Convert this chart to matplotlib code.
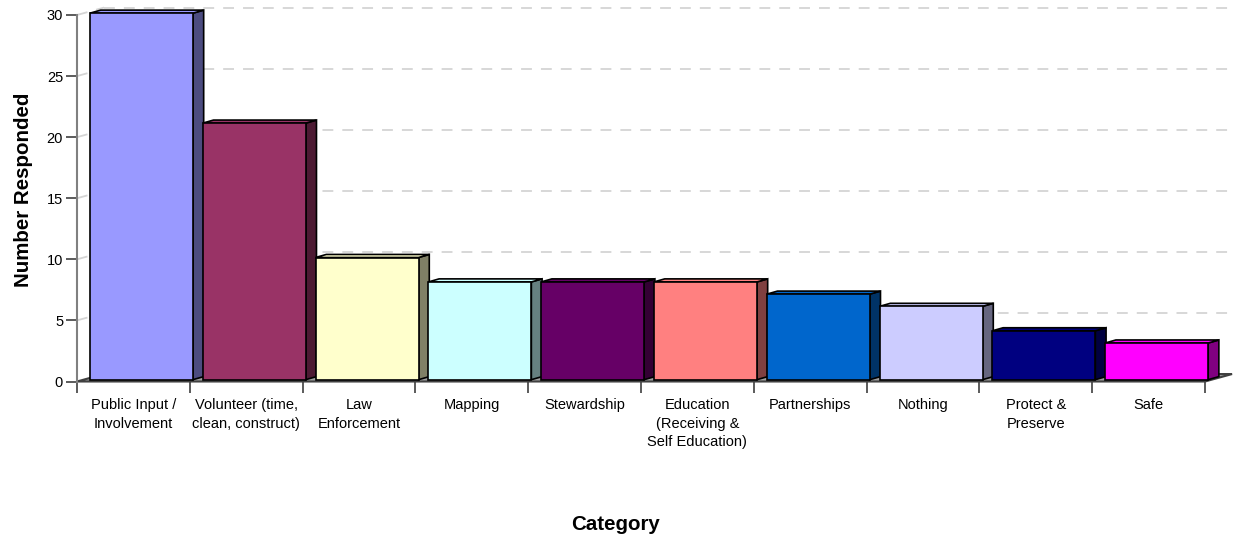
import matplotlib.pyplot as plt
from matplotlib.patches import Polygon

plt.rcParams['font.family'] = ['Liberation Sans', 'DejaVu Sans']

# Survey responses per category
categories = ["Public Input /\nInvolvement", "Volunteer (time,\nclean, construct)",
              "Law\nEnforcement", "Mapping", "Stewardship",
              "Education\n(Receiving &\nSelf Education)", "Partnerships",
              "Nothing", "Protect &\nPreserve", "Safe"]
responses = [30, 21, 10, 8, 8, 8, 7, 6, 4, 3]
front_colors = ['#9999FF', '#993366', '#FFFFCC', '#CCFFFF', '#660066',
                '#FF8080', '#0066CC', '#CCCCFF', '#000080', '#FF00FF']
side_colors = ['#4C4C80', '#4D1A33', '#808066', '#668080', '#330033',
               '#804040', '#003366', '#666680', '#000040', '#800080']

n = len(categories)

fig = plt.figure(figsize=(12.33, 5.4), dpi=100)
ax = fig.add_axes([77/1233, 1 - 381.5/540, 1128/1233, 366.5/540])
ax.set_xlim(0, n)
ax.set_ylim(0, 30)

# 3-D look: depth of the walls/floor and of each bar (data units)
wall_dx, wall_dy = 0.24, 0.61
bar_dx, bar_dy = 0.095, 0.25
bar_off, bar_w, bar_base = 0.115, 0.913, 0.15

# floor
floor = Polygon([(0, 0), (n, 0), (n + wall_dx, wall_dy), (wall_dx, wall_dy)],
                closed=True, facecolor='#a0a0a0', edgecolor='#404040',
                lw=1.5, clip_on=False, zorder=1)
ax.add_patch(floor)

# gridlines on the back wall and the (edge-on) side wall
grid_kw = dict(color='#d4d4d4', lw=1.3, linestyle=(0, (6, 5)), clip_on=False, zorder=0.5)
for v in range(5, 31, 5):
    ax.plot([wall_dx, n + wall_dx], [v + wall_dy, v + wall_dy], **grid_kw)
    ax.plot([0, wall_dx], [v, v + wall_dy], **grid_kw)

# bars: front, side and top faces
for i, (val, fc, sc) in enumerate(zip(responses, front_colors, side_colors)):
    x0 = i + bar_off
    x1 = x0 + bar_w
    y0 = bar_base
    y1 = bar_base + val
    z = 2 + i
    side = Polygon([(x1, y0), (x1 + bar_dx, y0 + bar_dy), (x1 + bar_dx, y1 + bar_dy), (x1, y1)],
                   closed=True, facecolor=sc, edgecolor='black', lw=1.2, zorder=z, clip_on=False)
    top = Polygon([(x0, y1), (x0 + bar_dx, y1 + bar_dy), (x1 + bar_dx, y1 + bar_dy), (x1, y1)],
                  closed=True, facecolor=fc, edgecolor='black', lw=1.2, zorder=z, clip_on=False)
    ax.add_patch(side)
    ax.add_patch(top)
    ax.bar(x0, val, width=bar_w, bottom=y0, align='edge', color=fc,
           edgecolor='black', lw=1.2, zorder=z + 0.5, clip_on=False)

# axes styling
for s in ['top', 'right', 'bottom']:
    ax.spines[s].set_visible(False)
ax.spines['left'].set_color('#808080')
ax.spines['left'].set_linewidth(1.5)

ax.set_yticks(range(0, 31, 5))
ax.tick_params(axis='y', length=8, width=1.2, color='#404040', pad=2, labelsize=10.5)

ax.set_xticks([i + 0.5 for i in range(n)])
ax.set_xticklabels(categories, fontsize=10.5, linespacing=1.4)
ax.set_xticks(range(n + 1), minor=True)
ax.tick_params(axis='x', which='major', length=0, pad=12)
ax.tick_params(axis='x', which='minor', length=8, width=1.2, color='#404040', direction='out')

fig.text(24/1233, 1 - 190/540, 'Number Responded', rotation=90, ha='center', va='center',
         fontsize=14.8, fontweight='bold')
fig.text(616/1233, 1 - 530/540, 'Category', ha='center', va='baseline',
         fontsize=14.8, fontweight='bold')

fig.savefig('out.png', dpi=100)
